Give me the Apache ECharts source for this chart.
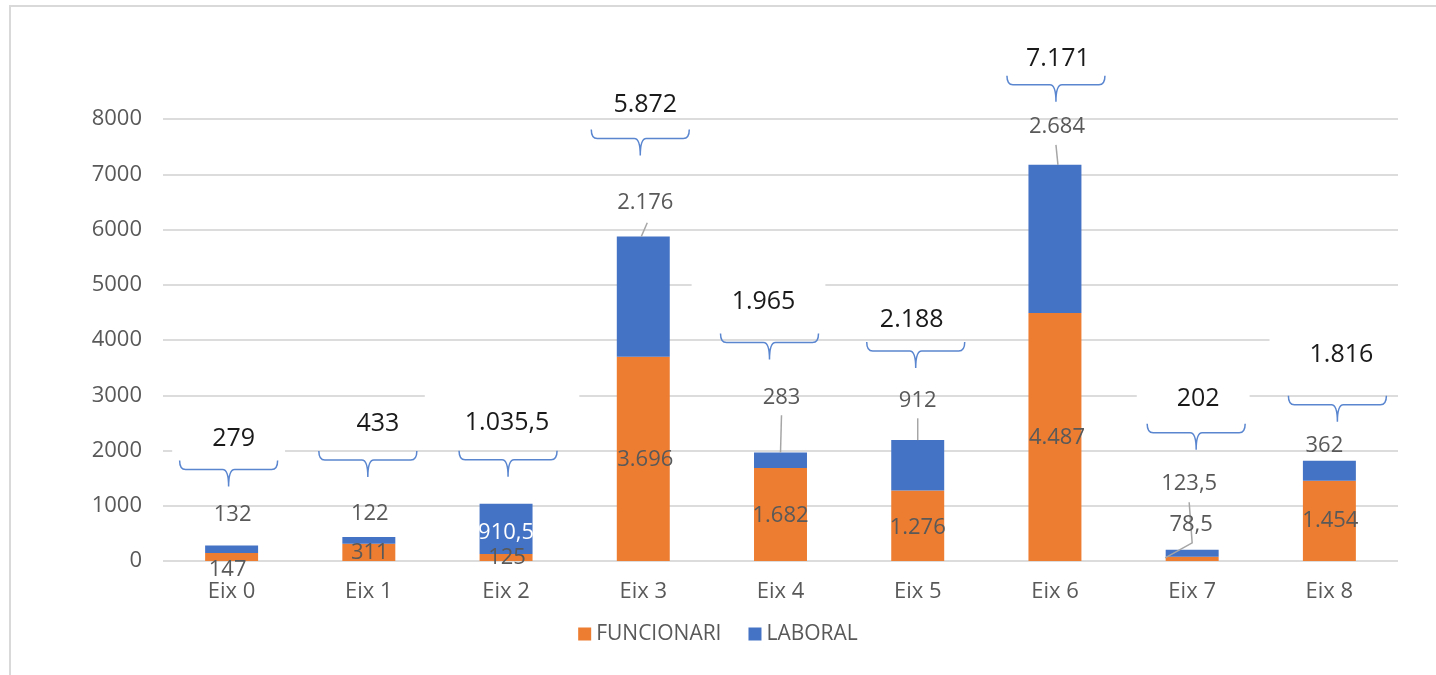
<!DOCTYPE html>
<html>
<head>
<meta charset="utf-8">
<script src="https://cdn.jsdelivr.net/npm/echarts@6/dist/echarts.min.js"></script>
<style>
html, body { margin: 0; padding: 0; background: #fff; }
#chart { width: 1436px; height: 675px; }
</style>
</head>
<body>
<div id="chart"></div>
<script>
// data
var categories = ['Eix 0', 'Eix 1', 'Eix 2', 'Eix 3', 'Eix 4', 'Eix 5', 'Eix 6', 'Eix 7', 'Eix 8'];
var funcionari = [147, 311, 125, 3696, 1682, 1276, 4487, 78.5, 1454];
var laboral = [132, 122, 910.5, 2176, 283, 912, 2684, 123.5, 362];
var seriesNames = ['FUNCIONARI', 'LABORAL'];
var yMin = 0, yMax = 8000, yStep = 1000;

// hand placed callouts (pixel offsets, like the excel original)
var fLabelOff = [[-4, 13], [1, 0], [1, 0], [2, 1], [0, 1], [0, 2], [2, 1], [-1, -34], [1, 0]];
var lLabelOff = [[1, -34], [1, -27], [0, 4], [2, -94], [1, -63], [0, -65], [2, -112], [-3, -70], [-5, -25]];
var leaders = [null, null, null,
    [['L', 2, 20], ['T', -2, 0]],
    [['L', 0, 18], ['T', 0, 0]],
    [['L', 0, 18], ['T', 0, 0]],
    [['L', -1, 18], ['T', 3, 0]],
    [['L', 0, 19], ['T', 0, -7], ['T', -27, 8]],
    null];
var braces = [[-3, 59], [-1, 60], [2, 27], [-3, 81], [-11, 93], [-2, 72], [1, 63], [4, 100], [8, 39]];
var totalOff = [[5, -31], [10, -36], [-1, -37], [5, -34], [-6, -41], [-4, -31], [2, -26], [2, -34], [4, -50]];
var totalPad = [[1, 5], [0, 0], [17, 1], [0, 0], [7, 1], [0, 0], [0, 0], [0, 0], [5, 0]];

var FONT = '"Open Sans", "Noto Sans", sans-serif';
var GRAY = '#595959';

function fmt(v) {
    var parts = String(v).split('.');
    var intPart = parts[0].replace(/\B(?=(\d{3})+(?!\d))/g, '.');
    return parts[1] ? intPart + ',' + parts[1] : intPart;
}

var measureCtx = document.createElement('canvas').getContext('2d');
function textWidth(str, size) {
    measureCtx.font = size + 'px "Open Sans"';
    return measureCtx.measureText(str).width;
}

function label(x, y, str, color, size) {
    return {
        type: 'text', x: x, y: y, z2: 10,
        style: { text: str, fill: color, fontSize: size, fontFamily: FONT, align: 'center', verticalAlign: 'middle' }
    };
}

function renderNotes(params, api) {
    var i = params.dataIndex;
    var f = funcionari[i], l = laboral[i], t = f + l;
    var cx = api.coord([i, 0])[0];
    var top = api.coord([i, t])[1];
    var fMid = api.coord([i, f / 2])[1];
    var lMid = api.coord([i, f + l / 2])[1];
    var kids = [];

    var lx = cx + lLabelOff[i][0], ly = lMid + lLabelOff[i][1];

    if (leaders[i]) {
        var pts = leaders[i].map(function (p) {
            return p[0] === 'L' ? [lx + p[1], ly + p[2]] : [cx + p[1], top + p[2]];
        });
        kids.push({ type: 'polyline', shape: { points: pts }, style: { stroke: '#a6a6a6', lineWidth: 1.5, fill: null } });
    }

    kids.push(label(cx + fLabelOff[i][0], fMid + fLabelOff[i][1], fmt(f), GRAY, 22));
    kids.push(label(lx, ly, fmt(l), i === 2 ? '#ffffff' : GRAY, 22));

    // brace over the bar
    var bx = cx + braces[i][0];
    var tipY = top - braces[i][1];
    var lineY = tipY - 17, endY = lineY - 9, half = 49, r = 6;
    var d = 'M' + (bx - half) + ' ' + endY +
        ' Q' + (bx - half) + ' ' + lineY + ' ' + (bx - half + r) + ' ' + lineY +
        ' L' + (bx - r) + ' ' + lineY +
        ' Q' + bx + ' ' + lineY + ' ' + bx + ' ' + tipY +
        ' Q' + bx + ' ' + lineY + ' ' + (bx + r) + ' ' + lineY +
        ' L' + (bx + half - r) + ' ' + lineY +
        ' Q' + (bx + half) + ' ' + lineY + ' ' + (bx + half) + ' ' + endY;
    kids.push({ type: 'path', shape: { pathData: d }, style: { stroke: '#5a86d0', lineWidth: 1.5, fill: null } });

    // total with white box
    var tx = bx + totalOff[i][0], ty = lineY + totalOff[i][1];
    var str = fmt(t);
    var w = textWidth(str, 25);
    kids.push({
        type: 'rect',
        shape: { x: tx - w / 2 - 40, y: ty - 13 - totalPad[i][0], width: w + 70, height: 26 + totalPad[i][0] + totalPad[i][1] },
        style: { fill: '#ffffff' }
    });
    kids.push(label(tx, ty, str, '#1a1a1a', 25));

    return { type: 'group', children: kids };
}

var chart = echarts.init(document.getElementById('chart'), null, { renderer: 'canvas' });

chart.setOption({
    animation: false,
    color: ['#ED7D31', '#4472C4'],
    textStyle: { fontFamily: FONT },
    graphic: [{
        type: 'rect', silent: true, z: -10,
        shape: { x: 10, y: 6, width: 1600, height: 900 },
        style: { fill: null, stroke: '#d9d9d9', lineWidth: 2 }
    }],
    grid: { left: 163, right: 38, top: 119, bottom: 114, containLabel: false, outerBoundsMode: 'none' },
    legend: {
        data: seriesNames,
        left: 'center',
        top: 616,
        icon: 'rect',
        itemWidth: 13,
        itemHeight: 13,
        itemGap: 27,
        textStyle: { fontSize: 21, color: GRAY, fontFamily: FONT, lineHeight: 26 }
    },
    xAxis: {
        type: 'category',
        data: categories,
        axisLine: { show: false },
        axisTick: { show: false },
        axisLabel: { fontSize: 22, color: GRAY, margin: 18, lineHeight: 26, fontFamily: FONT },
        splitLine: { show: false }
    },
    yAxis: {
        type: 'value',
        min: yMin,
        max: yMax,
        interval: yStep,
        axisLine: { show: false },
        axisTick: { show: false },
        axisLabel: {
            fontSize: 22, color: GRAY, margin: 21, fontFamily: FONT,
            formatter: function (v) { return String(v); }
        },
        splitLine: { lineStyle: { color: '#dcdcdc', width: 2 } }
    },
    series: [
        {
            name: seriesNames[0], type: 'bar', stack: 'total', barWidth: '38.6%',
            data: funcionari, silent: true
        },
        {
            name: seriesNames[1], type: 'bar', stack: 'total', barWidth: '38.6%',
            data: laboral, silent: true
        },
        {
            name: 'notes', type: 'custom', clip: false, silent: true, z: 5,
            data: categories.map(function (c, i) { return [i, funcionari[i] + laboral[i]]; }),
            encode: { x: 0, y: 1 },
            renderItem: renderNotes
        }
    ]
});
</script>
</body>
</html>
